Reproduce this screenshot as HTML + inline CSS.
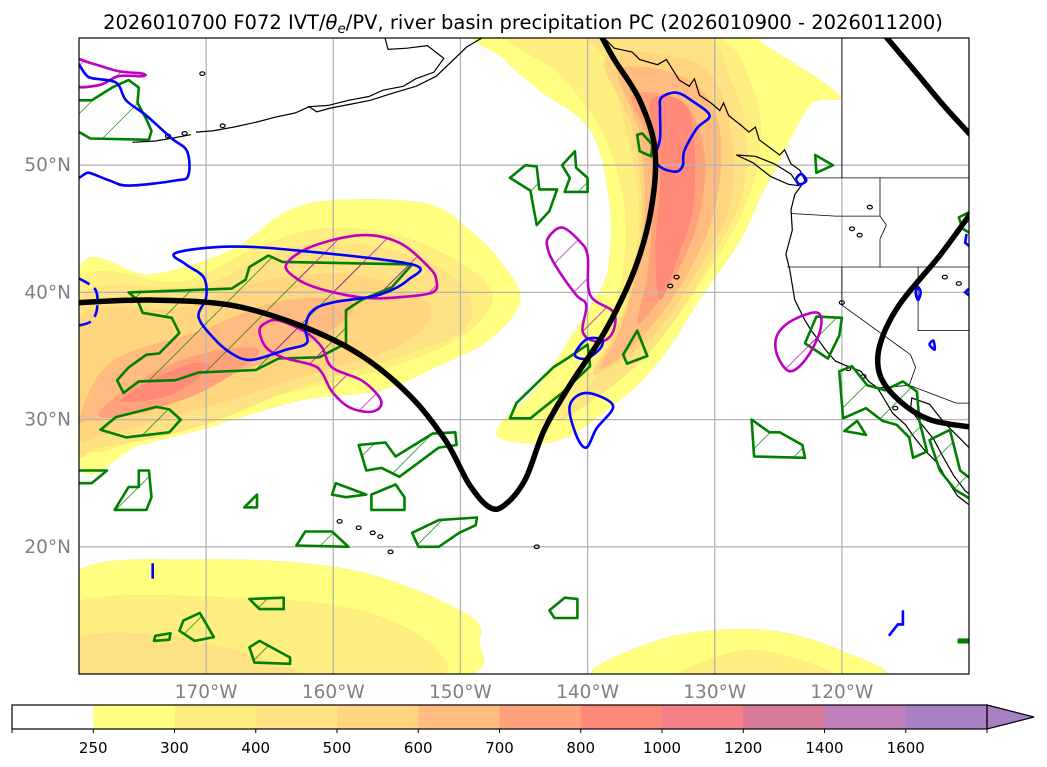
<!DOCTYPE html>
<html><head><meta charset="utf-8"><style>
html,body{margin:0;padding:0;background:#fff;}
svg{display:block;font-family:"DejaVu Sans","Liberation Sans",sans-serif;}
</style></head><body>
<svg id="chart" width="1047" height="767" viewBox="0 0 1047 767" xmlns="http://www.w3.org/2000/svg">
<defs>
<clipPath id="mapclip"><rect x="79" y="38" width="890" height="636"/></clipPath>
<pattern id="hatchG" patternUnits="userSpaceOnUse" width="34" height="34" patternTransform="rotate(45)"><line x1="0" y1="0" x2="0" y2="34" stroke="#008000" stroke-width="1.4"/></pattern>
<pattern id="hatchM" patternUnits="userSpaceOnUse" width="34" height="34" patternTransform="rotate(45)"><line x1="0" y1="0" x2="0" y2="34" stroke="#c000c0" stroke-width="1.4"/></pattern>
</defs>
<text x="523" y="29" text-anchor="middle" font-size="19.5" fill="#000">2026010700 F072 IVT/<tspan font-style="italic">θ</tspan><tspan font-style="italic" font-size="13.5" dy="4">e</tspan><tspan dy="-4">/PV, river basin precipitation PC (2026010900 - 2026011200)</tspan></text>
<g id="map" clip-path="url(#mapclip)"></g>
<rect x="79" y="38" width="890" height="636" fill="none" stroke="#000" stroke-width="1.2"/>
<g id="labels"></g>
<g id="cbar"></g>
</svg>
<script>
// ---- axis ----
const lonMin=-180, lonMax=-110, latMin=10, latMax=60;
const X0=79, X1=969, Y0=38, Y1=674;
function px(lon){return X0+(lon-lonMin)/(lonMax-lonMin)*(X1-X0);}
function py(lat){return Y0+(latMax-lat)/(latMax-latMin)*(Y1-Y0);}

// ---- data ----
const lonTicks=[-170,-160,-150,-140,-130,-120];
const lonTickLabels=["170°W","160°W","150°W","140°W","130°W","120°W"];
const latTicks=[20,30,40,50];
const latTickLabels=["20°N","30°N","40°N","50°N"];

const cbLevels=[250,300,400,500,600,700,800,1000,1200,1400,1600];
const cbLabels=["250","300","400","500","600","700","800","1000","1200","1400","1600"];

const ivtWestAR=[
 [250,[[-180,41.8],[-174.4,41.4],[-168.1,43.3],[-163.4,46.5],[-158.7,47.3],[-152.4,46.9],[-149.3,44.9],[-146.9,42.5],[-145.3,39.4],[-147.7,36.3],[-151.6,34.3],[-156.3,32.3],[-162.6,31.5],[-170.5,29.2],[-175.2,28],[-180,26.5]]],
 [300,[[-180,40.8],[-172,40.8],[-166,43.5],[-161,45],[-155,44.5],[-149.5,42],[-147.5,39.5],[-150,36.5],[-156,34],[-164,32],[-172,30],[-180,28]]],
 [400,[[-180,39.5],[-170.5,40.5],[-163.4,43.5],[-156.3,43.5],[-150.3,41],[-149.5,37.3],[-154.8,35],[-162.6,32.6],[-170.5,29.5],[-178.3,27.8],[-180,28]]],
 [500,[[-180,38],[-172,38.8],[-165,41],[-158,41.3],[-152.5,39],[-154.5,36],[-162,33.5],[-170,31],[-178,28.8],[-180,29]]],
 [600,[[-180,30],[-177.5,34.5],[-170.5,37],[-164.2,39.3],[-158.5,39.2],[-161,36.5],[-168.9,33.1],[-174.4,30.7],[-179,30]]],
 [700,[[-178.3,30.8],[-173.6,34],[-168.9,35.5],[-165.8,35.3],[-170.5,32.1],[-176.8,30.2]]],
 [800,[[-176.8,31.5],[-172,34.2],[-169.7,34.2],[-172.8,31.9]]]
];
const ivtEastAR=[
 [250,[[-147.7,60.5],[-126.5,60.5],[-126.5,59.8],[-120.2,55.5],[-122.5,54.7],[-125.3,49.6],[-126.5,47.3],[-128,44.1],[-131.2,39.4],[-134.3,34.7],[-137.5,31.5],[-142.2,28.4],[-146.5,28.4],[-146.9,29.6],[-143.8,32.7],[-141,37],[-139,40.2],[-138.3,42.5],[-138.3,47.3],[-139.8,52.8],[-143.8,55.9],[-146.5,58.3]]],
 [300,[[-146,60.5],[-131,60.5],[-127,56],[-126.5,51],[-128,46],[-131,41],[-135,35.5],[-139,32],[-144,29.5],[-142,31.5],[-139.5,35.5],[-137.5,40],[-137,46],[-138.5,52],[-142,57]]],
 [400,[[-139.8,60.5],[-131.2,60.5],[-128.8,56.7],[-127.6,52.8],[-128,47.3],[-131.2,41],[-134.3,36.3],[-137.5,33.1],[-142.2,29.9],[-140,32.5],[-137.8,36],[-136.7,40.2],[-135.9,46.5],[-137,53],[-138.3,58]]],
 [500,[[-138.5,58.5],[-131.5,58],[-129,54],[-128.8,47],[-131.8,41],[-135,36.5],[-139.5,33.5],[-138,36.5],[-136.5,40.5],[-135.7,46.5],[-136.5,53]]],
 [600,[[-137.5,57.5],[-132,56.7],[-129.6,52.8],[-130,46.5],[-132.4,41],[-135.9,36.3],[-139,34],[-137.5,37],[-136.3,41],[-135.5,46.5],[-136,52.8]]],
 [700,[[-136.5,55.5],[-132.5,55],[-130.8,51],[-131.2,46],[-133,41.5],[-136,37.5],[-135.3,41.5],[-134.9,47],[-135.2,52]]],
 [800,[[-135.1,55.1],[-132,54.3],[-131.6,47.3],[-132.8,42.9],[-134.3,39.4],[-134.7,43.3],[-134.3,50]]]
];
const ivtSouth=[
 [250,[[-180.5,17.8],[-170.5,19],[-158.7,18.2],[-150,15],[-148.5,12.7],[-151.6,9.5],[-180.5,9.5]]],
 [300,[[-180.5,15.5],[-168,16],[-158,15],[-152,12],[-154,9.5],[-180.5,9.5]]],
 [400,[[-180.5,12.7],[-174.4,13.1],[-166.6,11.5],[-163,9.5],[-180.5,9.5]]],
 [250,[[-139,9.5],[-134.3,12.7],[-126.5,13.5],[-120.2,11.9],[-117.5,9.5]]],
 [300,[[-133,9.5],[-128,11.8],[-123,11],[-121,9.5]]]
];

const thickLine1=[[-180,39.2],[-174.4,39.4],[-168.1,39],[-162.6,37.4],[-157.9,35.1],[-154,31.9],[-151.2,28.4],[-149.3,24.9],[-147.7,23.1],[-146.5,23.3],[-144.9,25.3],[-143.4,29.2],[-141.4,32.7],[-138.6,37],[-136.3,41.8],[-135,46.5],[-134.7,51.2],[-135.9,55.1],[-137.9,58.3],[-139,60.3]];
const thickLine2=[[-116.7,60.3],[-114,57.1],[-112,54.7],[-109.8,52.3]];
const thickLine3=[[-109.8,46.3],[-112.3,42.9],[-115.5,39],[-117,35.9],[-117,33.5],[-115.5,31.5],[-113.1,30],[-109.8,29.4]];

const greenPolys=[
 [[-176.1,40.0],[-168.0,40.3],[-166.9,41.0],[-166.6,42.0],[-165.1,42.9],[-164.0,42.4],[-153.8,42.2],[-155.4,40.4],[-157.8,39.4],[-159.0,38.6],[-159.0,36.0],[-161.1,34.9],[-164.3,34.8],[-166.1,33.9],[-170.6,33.7],[-172.4,33.1],[-175.3,33.0],[-176.5,32.1],[-177.0,33.1],[-176.1,34.1],[-174.7,35.1],[-173.7,35.2],[-172.1,36.8],[-172.7,38.0],[-175.0,38.4],[-175.4,39.4]],
 [[-178.3,29.2],[-177.1,30.2],[-173.9,31.0],[-172.9,30.8],[-172.0,30.0],[-172.9,29.0],[-176.3,28.6]],
 [[-158.0,28.0],[-155.9,28.2],[-155.1,27.1],[-152.2,28.9],[-150.4,29.0],[-150.3,28.0],[-151.7,27.8],[-154.8,25.5],[-156.2,26.2],[-157.4,26.0]],
 [[-159.8,25.0],[-157.4,24.1],[-159.0,23.9],[-160.1,24.1]],
 [[-157.0,24.1],[-155.1,24.9],[-154.4,23.9],[-154.4,22.9],[-157.0,22.9]],
 [[-153.8,21.1],[-151.7,22.1],[-148.7,22.3],[-148.8,21.7],[-150.1,21.1],[-151.7,20.0],[-153.3,20.0]],
 [[-162.9,20.1],[-162.2,21.2],[-160.1,21.2],[-158.8,20.0]],
 [[-177.2,22.9],[-176.1,24.7],[-175.3,24.7],[-175.3,26.0],[-174.5,26.0],[-174.3,23.9],[-174.7,22.9]],
 [[-180.5,26.0],[-177.8,26.0],[-179.0,25.0],[-180.5,25.0]],
 [[-167.0,23.1],[-166.0,24.1],[-166.0,23.1]],
 [[-180.5,55.1],[-179.0,55.1],[-177.4,56.1],[-176.1,56.7],[-175.3,56.1],[-175.4,54.9],[-174.7,53.6],[-174.3,52.7],[-174.5,52.0],[-179.1,52.1],[-180.5,52.9]],
 [[-136.1,52.4],[-135.7,52.5],[-134.9,51.6],[-135.0,50.7],[-135.9,51.1]],
 [[-146.1,49.0],[-144.9,50.0],[-144.0,49.9],[-143.8,48.1],[-142.4,48.1],[-143.0,46.4],[-144.0,45.3],[-144.5,48.0]],
 [[-142.0,50.0],[-141.0,51.1],[-140.9,49.8],[-140.0,49.0],[-140.0,47.9],[-141.8,47.9],[-141.4,49.0]],
 [[-146.1,30.1],[-145.6,31.3],[-142.7,34.1],[-141.6,34.8],[-140.0,35.9],[-139.8,34.2],[-142.0,32.1],[-144.5,30.1]],
 [[-137.2,35.1],[-136.1,37.0],[-135.3,35.0],[-136.9,34.4]],
 [[-122.9,36.0],[-122.0,38.1],[-120.0,38.0],[-120.2,36.6],[-121.1,34.8]],
 [[-120.2,33.8],[-119.2,34.2],[-118.0,32.7],[-116.6,32.3],[-115.2,33.0],[-114.1,32.2],[-113.9,29.9],[-113.3,27.5],[-114.4,27.0],[-114.7,28.6],[-115.7,29.6],[-116.8,29.9],[-118.1,30.9],[-119.9,30.1]],
 [[-113.1,28.4],[-111.5,29.2],[-110.7,26.0],[-109.8,25.3],[-109.8,23.7],[-111.1,24.5],[-112.3,26.0]],
 [[-119.8,29.1],[-118.8,29.9],[-118.1,28.8]],
 [[-127.1,30.0],[-125.7,29.0],[-124.9,29.0],[-123.1,28.0],[-122.9,27.0],[-126.9,27.1]],
 [[-122.1,50.8],[-120.7,50.0],[-122.0,49.4]],
 [[-143.0,15.0],[-141.8,16.0],[-140.8,15.9],[-140.8,14.4],[-142.6,14.4]],
 [[-171.8,14.2],[-170.5,14.8],[-169.4,12.9],[-170.9,12.6],[-172.1,13.4]],
 [[-166.6,15.9],[-163.9,16.0],[-163.9,15.1],[-165.8,15.1]],
 [[-166.6,12.1],[-165.8,12.6],[-163.4,11.3],[-163.4,10.8],[-166.2,10.9]],
 [[-174.0,13.0],[-172.8,13.2],[-172.9,12.7],[-174.1,12.6]],
 [[-110.8,45.9],[-109.8,46.4],[-109.8,44.6],[-110.5,45.0]],
 [[-109.8,12.7],[-110.8,12.7],[-110.8,12.5],[-109.8,12.5]]
];
const magentaPolys=[
 [[-163.7,42.2],[-161.7,43.6],[-157.8,44.5],[-154.8,43.9],[-152.5,42.0],[-151.9,41.0],[-152.2,40.0],[-155.1,39.6],[-157.8,39.6],[-161.1,40.3],[-162.9,41.1]],
 [[-165.8,37.0],[-165.3,37.6],[-164.3,37.8],[-162.2,36.9],[-160.9,35.7],[-160.1,34.1],[-157.8,33.1],[-156.4,31.8],[-156.3,31.0],[-157.2,30.6],[-158.8,31.0],[-160.1,32.2],[-160.9,33.7],[-161.7,34.3],[-164.0,34.9],[-165.3,35.7]],
 [[-143.1,44.3],[-142.0,45.1],[-140.6,44.0],[-140.0,42.9],[-139.8,39.8],[-138.0,38.5],[-137.9,37.2],[-138.5,36.3],[-139.6,36.2],[-140.4,37.0],[-140.1,39.0],[-140.9,39.8],[-142.4,41.9],[-143.1,43.3]],
 [[-125.1,36.6],[-123.9,37.8],[-121.9,38.4],[-121.7,37.0],[-122.8,34.8],[-124.1,33.8],[-125.1,35.1]],
 [[-180.5,58.3],[-179.0,58.0],[-176.9,57.4],[-175.0,57.2],[-175.0,57.0],[-176.9,57.0],[-178.4,56.3],[-180.5,56.3]]
];
const bluePolys=[
 [[-172.4,43.1],[-168.2,43.6],[-162.9,43.3],[-153.8,42.2],[-154.1,41.0],[-156.4,39.8],[-160.1,39.2],[-161.7,38.5],[-162.2,37.2],[-162.1,36.0],[-163.7,35.5],[-166.4,34.7],[-168.0,35.2],[-169.5,36.5],[-170.6,38.1],[-170.0,39.6],[-170.2,41.2],[-171.6,42.2]],
 [[-134.2,55.3],[-133.0,55.7],[-131.7,55.0],[-130.4,53.9],[-131.4,52.9],[-132.4,51.1],[-132.5,50.0],[-133.0,49.5],[-134.2,49.8],[-134.7,50.6],[-134.3,52.1],[-134.3,54.3]],
 [[-141.0,35.1],[-140.1,36.3],[-138.9,36.3],[-139.0,35.6],[-140.1,34.8]],
 [[-141.4,31.1],[-140.1,32.1],[-138.0,31.1],[-139.3,29.3],[-140.1,27.8],[-140.9,28.8]],
 [[-180.5,57.8],[-179.2,56.9],[-177.1,56.5],[-176.3,55.1],[-174.7,53.9],[-172.7,52.1],[-171.5,51.1],[-171.4,49.2],[-172.4,48.8],[-176.1,48.4],[-177.6,48.8],[-179.2,49.4],[-180.5,49.6]],
 [[-123.6,48.9],[-123.2,49.3],[-122.8,48.8],[-123.3,48.5]],
 [[-113.1,35.9],[-112.8,36.2],[-112.7,35.5]],
 [[-114.2,40.0],[-114.0,39.4],[-113.8,40.0],[-114.0,40.4]]
];
const blueLines=[
 [[-116.3,13.0],[-115.6,13.9],[-115.2,13.9],[-115.2,15.0]],
 [[-174.2,17.5],[-174.2,18.7]],
 [[-110.2,44.6],[-110.3,43.9],[-109.8,43.5]],
 [[-110,40.3],[-110.3,40.0],[-109.8,39.6]]
];
const blueDashed=[[-180,41.1],[-178.7,40.2],[-178.6,38.6],[-179.1,37.7],[-180,37.4]];

const coastNA=[[-139,60.3],[-137.9,59.2],[-136.5,58.9],[-135.9,58.3],[-134.5,57.9],[-133.8,58.3],[-132.8,56.7],[-132.0,56.2],[-131.6,56.8],[-131.2,55.5],[-130.3,54.9],[-129.6,54.3],[-129.3,54.9],[-128.9,53.9],[-128,53.2],[-127.3,52.6],[-126.8,53.0],[-126.5,52],[-125.7,51.4],[-124.9,50.8],[-124.5,51.2],[-124.0,50.1],[-123.3,49.6],[-122.9,48.8],[-123.7,47.7],[-124.0,46.5],[-123.9,44.9],[-124.4,43.0],[-124.1,41.8],[-123.7,39.4],[-122.9,37.8],[-122.4,37.0],[-121.8,36.2],[-121.3,35.5],[-120.5,34.6],[-119.8,34.3],[-118.5,33.8],[-117.9,33.0],[-117.2,32.5],[-116.6,31.5],[-116.0,30.5],[-115.0,29.6],[-114.3,28.6],[-113.5,27.6],[-112.5,26.6],[-111.7,25.2],[-110.9,24.0],[-110.0,23.3]];
const coastGulf=[[-109.8,27.6],[-110.9,28.7],[-112.0,29.8],[-113.1,31.2],[-114.5,31.7],[-114.6,30.8],[-113.7,29.6],[-112.8,28.5],[-112.0,27.0],[-111.2,25.6],[-110.3,24.4],[-109.8,24.0]];
const vanIsland=[[-128.3,50.8],[-127.0,50.2],[-125.6,49.1],[-124.2,48.5],[-123.4,48.4],[-124.0,49.3],[-125.3,50.1],[-126.8,50.7]];
const alaska=[[-156.0,60.3],[-155.7,59.1],[-154.2,59.2],[-152.6,59.4],[-151.3,58.4],[-152.1,57.3],[-153.5,56.8],[-154.5,56.2],[-156.1,55.9],[-157.2,55.4],[-158.8,55.1],[-160.4,54.7],[-161.9,54.6],[-161.3,54.2],[-160.2,54.5],[-158.6,54.8],[-157.1,55.1],[-155.2,55.7],[-153.5,56.2],[-151.9,57.0],[-149.5,59.3],[-147.8,60.3]];
const aleutians=[[-161.9,54.6],[-163.0,54.1],[-164.5,53.8],[-166.0,53.4],[-167.8,53.0],[-169.5,52.7],[-170.8,52.6]];
const aleutiansW=[[-175.8,51.8],[-174.0,51.9],[-172.8,52.1],[-171.2,52.4]];
const borders=[
 [[-120,60.3],[-120,49]],
 [[-123.0,49],[-109.8,49]],
 [[-124.0,46.2],[-120.5,46.0],[-117,46.0],[-117,49]],
 [[-117,46.0],[-116.5,45.3],[-117,44.2],[-117,42]],
 [[-124.3,42],[-109.8,42]],
 [[-120,42],[-120,39],[-114.6,35.1]],
 [[-114,42],[-114,37],[-109.8,37]],
 [[-114.6,35.1],[-114.2,34.1],[-114.7,32.7]],
 [[-117.1,32.5],[-114.7,32.7],[-111,31.3],[-109.8,31.3]]
];
const islands=[[-159.5,22.0],[-158.0,21.5],[-156.9,21.1],[-156.3,20.8],[-155.5,19.6],[-171.7,52.5],[-170.3,57.2],[-168.7,53.1],[-173.0,52.3],[-117.8,46.7],[-118.6,44.5],[-120.0,39.2],[-119.2,45.0],[-110.8,40.7],[-111.9,41.2],[-118.3,33.4],[-119.5,34.0],[-115.8,30.9],[-144,20],[-133.5,40.5],[-133.0,41.2]];

// ---- drawing ----
const NS="http://www.w3.org/2000/svg";
const map=document.getElementById('map');
const labels=document.getElementById('labels');
const cbar=document.getElementById('cbar');
const cbColors=["#ffff80","#ffef80","#ffe283","#ffd580","#ffbb80","#ffa27c","#ff8a7a","#f58088","#d87a99","#c080bb","#a880c4"];
function colorFor(level){return cbColors[cbLevels.indexOf(level)];}
function mk(tag,attrs,parent){const e=document.createElementNS(NS,tag);for(const k in attrs)e.setAttribute(k,attrs[k]);(parent||map).appendChild(e);return e;}
function smoothPath(pts,closed){
  const P=pts.map(p=>[px(p[0]),py(p[1])]);const n=P.length;
  let d="M"+P[0][0].toFixed(1)+","+P[0][1].toFixed(1);
  const last=closed?n:n-1;
  for(let i=0;i<last;i++){
    const p0=P[closed?(i-1+n)%n:Math.max(i-1,0)],p1=P[i],p2=P[(i+1)%n],p3=P[closed?(i+2)%n:Math.min(i+2,n-1)];
    const c1=[p1[0]+(p2[0]-p0[0])/6,p1[1]+(p2[1]-p0[1])/6],c2=[p2[0]-(p3[0]-p1[0])/6,p2[1]-(p3[1]-p1[1])/6];
    d+="C"+c1[0].toFixed(1)+","+c1[1].toFixed(1)+" "+c2[0].toFixed(1)+","+c2[1].toFixed(1)+" "+p2[0].toFixed(1)+","+p2[1].toFixed(1);
  }
  return d+(closed?"Z":"");
}
function linePath(pts,closed){return pts.map((p,i)=>(i?"L":"M")+px(p[0]).toFixed(1)+","+py(p[1]).toFixed(1)).join("")+(closed?"Z":"");}

[ivtWestAR,ivtEastAR,ivtSouth].forEach(group=>{
  group.forEach(item=>{
    const e=mk('path',{d:smoothPath(item[1],true),fill:colorFor(item[0]),stroke:"#ffd24a","stroke-width":0.4,"stroke-opacity":0.5});
    
    
  });
});
lonTicks.forEach(l=>{const e=mk('line',{x1:px(l),x2:px(l),y1:Y0,y2:Y1,stroke:"#b4b4b4","stroke-width":1.3});
  
  });
latTicks.forEach(l=>{const e=mk('line',{x1:X0,x2:X1,y1:py(l),y2:py(l),stroke:"#b4b4b4","stroke-width":1.3});
  
  });
[coastNA,coastGulf,alaska,aleutians,aleutiansW].forEach(c=>{const e=mk('path',{d:linePath(c,false),fill:"none",stroke:"#000","stroke-width":1.2});
  
  });
{const e=mk('path',{d:linePath(vanIsland,true),fill:"none",stroke:"#000","stroke-width":1.2});
  
  }
borders.forEach(c=>{const e=mk('path',{d:linePath(c,false),fill:"none",stroke:"#000","stroke-width":0.8});
  
  });
islands.forEach(p=>{const e=mk('ellipse',{cx:px(p[0]),cy:py(p[1]),rx:2.5,ry:1.8,fill:"none",stroke:"#000","stroke-width":1.2});
  
  });
greenPolys.forEach(pl=>{const e=mk('path',{d:linePath(pl,true),fill:"url(#hatchG)",stroke:"#008000","stroke-width":2.6,"stroke-linejoin":"round"});
  
  });
magentaPolys.forEach(pl=>{const e=mk('path',{d:smoothPath(pl,true),fill:"url(#hatchM)",stroke:"#c000c0","stroke-width":2.6});
  
  });
bluePolys.forEach(pl=>{const e=mk('path',{d:smoothPath(pl,true),fill:"none",stroke:"#0000ff","stroke-width":2.6});
  
  });
blueLines.forEach(pl=>{const e=mk('path',{d:linePath(pl,false),fill:"none",stroke:"#0000ff","stroke-width":2.6});
  
  });
{const e=mk('path',{d:smoothPath(blueDashed,false),fill:"none",stroke:"#0000ff","stroke-width":2.6,"stroke-dasharray":"12,6"});
  
  }
[thickLine1,thickLine2,thickLine3].forEach(l=>{const e=mk('path',{d:smoothPath(l,false),fill:"none",stroke:"#000","stroke-width":5.5,"stroke-linecap":"round"});
  
  });

lonTicks.forEach((l,i)=>{const t=mk('text',{x:px(l),y:698,"text-anchor":"middle","font-size":18.5,fill:"#808080"},labels);t.textContent=lonTickLabels[i];
  
  });
latTicks.forEach((l,i)=>{const t=mk('text',{x:71,y:py(l)+6,"text-anchor":"end","font-size":18.5,fill:"#808080"},labels);t.textContent=latTickLabels[i];
  
  });

const cbX0=12, cbX1=987, cbY=705, cbH=24, segW=(cbX1-cbX0)/12;
{const r=mk('rect',{x:cbX0,y:cbY,width:segW,height:cbH,fill:"#fff"},cbar);
  
  }
cbLevels.forEach((lv,i)=>{
  const x=cbX0+segW*(i+1);
  const r=mk('rect',{x:x,y:cbY,width:(i<cbLevels.length-1?segW+0.5:segW),height:cbH,fill:cbColors[i]},cbar);
  
  
  const tk=mk('line',{x1:x,x2:x,y1:cbY+cbH,y2:cbY+cbH+4,stroke:"#000","stroke-width":1},cbar);
  
  
  const t=mk('text',{x:x,y:753,"text-anchor":"middle","font-size":15,fill:"#000"},cbar);
  t.textContent=cbLabels[i];
  
  
});
{const a=mk('polygon',{points:cbX1+","+cbY+" 1034,"+(cbY+cbH/2)+" "+cbX1+","+(cbY+cbH),fill:cbColors[cbColors.length-1],stroke:"#000","stroke-width":1.2},cbar);
  
  
  const o=mk('rect',{x:cbX0,y:cbY,width:cbX1-cbX0,height:cbH,fill:"none",stroke:"#000","stroke-width":1.2},cbar);
  
  
  [cbX0,cbX1].forEach(x=>{const tk=mk('line',{x1:x,x2:x,y1:cbY+cbH,y2:cbY+cbH+4,stroke:"#000","stroke-width":1},cbar);
    
    });}
</script>
</body></html>
